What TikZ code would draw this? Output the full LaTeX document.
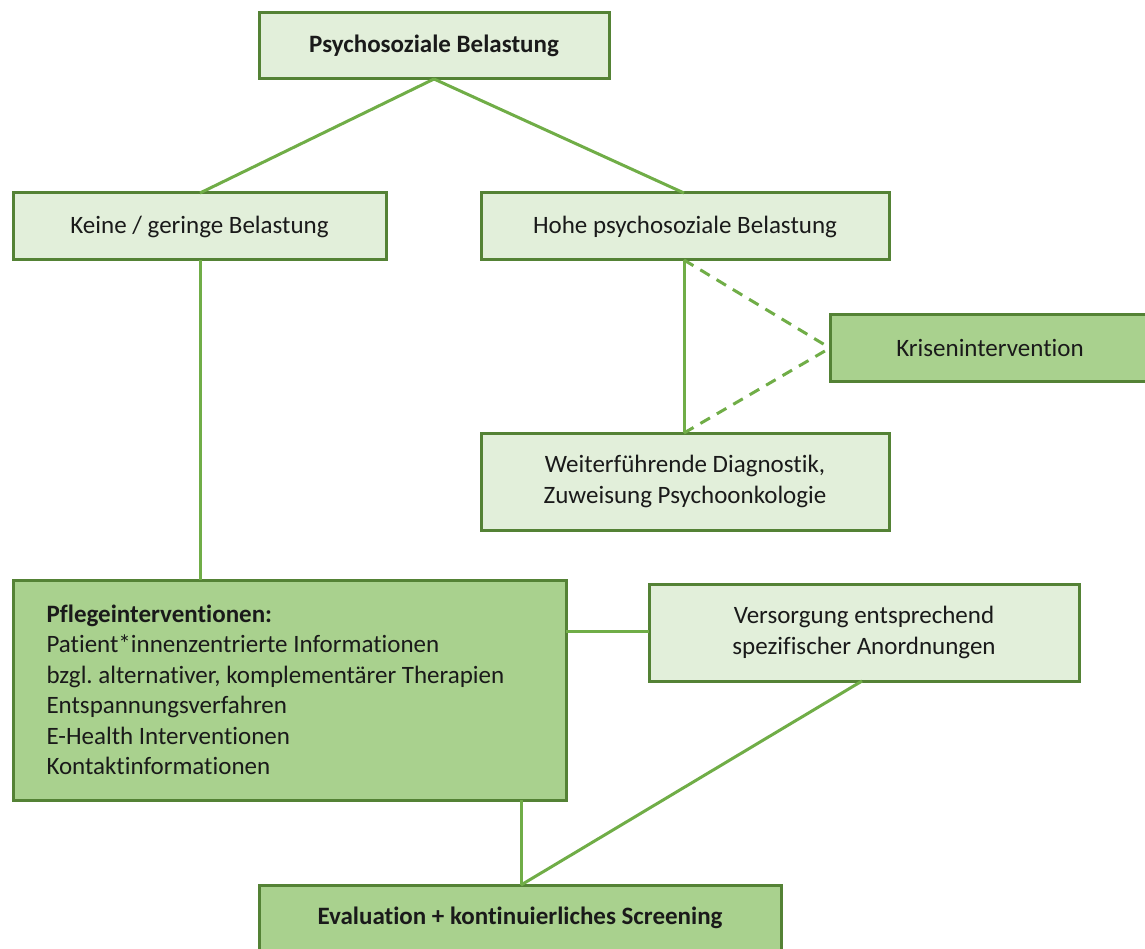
\documentclass[tikz,border=0pt]{standalone}
\usepackage{fontspec}
\setmainfont{Carlito}[Ligatures={NoCommon}]
\frenchspacing
\definecolor{boxborder}{HTML}{548235}
\definecolor{lightfill}{HTML}{E2EFDA}
\definecolor{midfill}{HTML}{A9D18E}
\definecolor{linkcol}{HTML}{70AD47}
\definecolor{txt}{HTML}{1A1A1A}
\tikzset{
  basebox/.style={draw=boxborder, line width=3pt, outer sep=0pt, inner sep=0pt,
    text=txt, align=center, font=\fontsize{25}{30.5}\selectfont},
  lightbox/.style={basebox, fill=lightfill},
  midbox/.style={basebox, fill=midfill},
  link/.style={draw=linkcol, line width=3pt},
  dlink/.style={link, dash pattern=on 11pt off 8pt}
}
\begin{document}
\begin{tikzpicture}[x=1pt,y=-1pt]
\useasboundingbox (0,0) rectangle (1145,949);
% boxes
\node[lightbox, minimum width=350, minimum height=66] (top) at (434,46) {\bfseries Psychosoziale Belastung};
\node[lightbox, minimum width=373, minimum height=67] (keine) at (199.5,226.5) {Keine / geringe Belastung};
\node[lightbox, minimum width=408, minimum height=67] (hohe) at (685,226.5) {Hohe psychosoziale Belastung};
\node[midbox, minimum width=320, minimum height=66] (krise) at (990,348) {Krisenintervention};
\node[lightbox, minimum width=408, minimum height=97] (weiter) at (685,481.5) {Weiterführende Diagnostik,\\Zuweisung Psychoonkologie};
\node[midbox, minimum width=553, minimum height=220, text width=486, align=flush left] (pflege) at (289.5,690)
  {\textbf{Pflegeinterventionen:}\\Patient*innenzentrierte Informationen\\bzgl. alternativer, komplementärer Therapien\\Entspannungsverfahren\\E-Health Interventionen\\Kontaktinformationen};
\node[lightbox, minimum width=430, minimum height=97] (versorg) at (864,632.5) {Versorgung entsprechend\\spezifischer Anordnungen};
\node[midbox, minimum width=522, minimum height=66] (eval) at (520,918) {\bfseries Evaluation + kontinuierliches Screening};
% connectors
\coordinate (topb) at (434,79);
\coordinate (kt) at (200,193);
\coordinate (ht) at (684,193);
\draw[link] (topb) -- (kt);
\draw[link] (topb) -- (ht);
\draw[link] (keine.south -| kt) -- (pflege.north -| kt);
\coordinate (hb) at (684,260);
\coordinate (wt) at (684,433);
\draw[link] (hb) -- (wt);
\draw[dlink] (hb) -- (krise.west);
\draw[dlink] (wt) -- (krise.west);
\coordinate (pr) at (566,631);
\draw[link] (pr) -- (versorg.west |- pr);
\coordinate (et) at (521,885);
\draw[link] (pflege.south -| et) -- (et);
\coordinate (vb) at (862,681);
\draw[link] (vb) -- (et);
\end{tikzpicture}
\end{document}
